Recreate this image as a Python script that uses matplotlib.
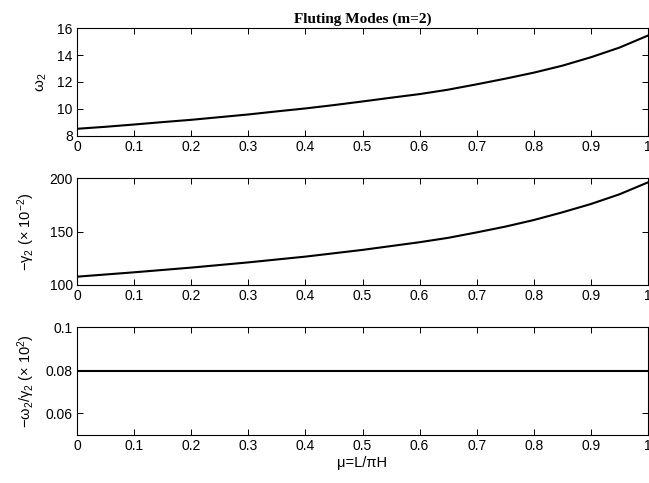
import matplotlib
matplotlib.use('Agg')
import matplotlib.pyplot as plt
import matplotlib.ticker as mtick

plt.rcParams['font.family'] = ['Liberation Sans', 'DejaVu Sans']
plt.rcParams['mathtext.fontset'] = 'custom'
plt.rcParams['mathtext.rm'] = 'Liberation Sans'
plt.rcParams['mathtext.it'] = 'Liberation Sans'
plt.rcParams['font.size'] = 10

# top panel: omega_2 read at 0.05 steps
mu_top = [0, 0.05, 0.1, 0.15, 0.2, 0.25, 0.3, 0.35, 0.4, 0.45, 0.5, 0.55,
          0.6, 0.65, 0.7, 0.75, 0.8, 0.85, 0.9, 0.95, 1.0]
omega2 = [8.5, 8.65, 8.82, 9.0, 9.17, 9.37, 9.57, 9.8, 10.02, 10.27, 10.54, 10.82,
          11.09, 11.42, 11.82, 12.24, 12.69, 13.21, 13.84, 14.56, 15.46]

# middle panel: -gamma_2 (x 10^-2)
mu_mid = [0, 0.1, 0.2, 0.3, 0.4, 0.5, 0.6, 0.65, 0.7, 0.75, 0.8, 0.85, 0.9, 0.95, 1.0]
neg_gamma2 = [107.8, 111.9, 116.3, 121.2, 126.6, 132.9, 140.1, 144.2, 149.3, 154.7,
              160.9, 168.1, 175.9, 185.0, 196.2]

# bottom panel: -omega_2/gamma_2 (x 10^2)
mu_bot = [0, 0.5, 1.0]
ratio = [0.0795, 0.0795, 0.0795]

x_ticks = [0, 0.1, 0.2, 0.3, 0.4, 0.5, 0.6, 0.7, 0.8, 0.9, 1]

W, H = 649, 483
fig = plt.figure(figsize=(W / 100, H / 100), dpi=100)

def add_axes(top, bottom):
    return fig.add_axes([77 / W, 1 - bottom / H, (648 - 77) / W, (bottom - top) / H])

ax1 = add_axes(28.3, 135.5)
ax2 = add_axes(178.3, 285.0)
ax3 = add_axes(327.3, 434.7)

fmt = mtick.FuncFormatter(lambda v, p: '%g' % v)

for ax in (ax1, ax2, ax3):
    ax.set_xlim(0, 1)
    ax.set_xticks(x_ticks)
    ax.xaxis.set_major_formatter(fmt)
    ax.yaxis.set_major_formatter(fmt)
    ax.tick_params(direction='in', top=True, right=True, length=4, width=0.7, pad=3)
    for s in ax.spines.values():
        s.set_linewidth(0.8)

ax1.plot(mu_top, omega2, color='black', lw=1.5)
ax1.set_ylim(8, 16)
ax1.set_yticks([8, 10, 12, 14, 16])
ax1.set_ylabel('ω$_2$', fontsize=11, labelpad=6)
ax1.set_title('Fluting Modes (m=2)', family='Liberation Serif', fontweight='bold',
              fontsize=11, pad=4)

ax2.plot(mu_mid, neg_gamma2, color='black', lw=1.5)
ax2.set_ylim(100, 200)
ax2.set_yticks([100, 150, 200])
ax2.set_ylabel('−γ$_2$ (× 10$^{-2}$)', fontsize=10.5, labelpad=9)

ax3.plot(mu_bot, ratio, color='black', lw=1.5)
ax3.set_ylim(0.05, 0.1)
ax3.set_yticks([0.06, 0.08, 0.1])
ax3.set_ylabel('−ω$_2$/γ$_2$ (× 10$^2$)', fontsize=10.5, labelpad=6)
ax3.set_xlabel('μ=L/πH', fontsize=10.5, labelpad=2)

fig.savefig('out.png', dpi=100)
